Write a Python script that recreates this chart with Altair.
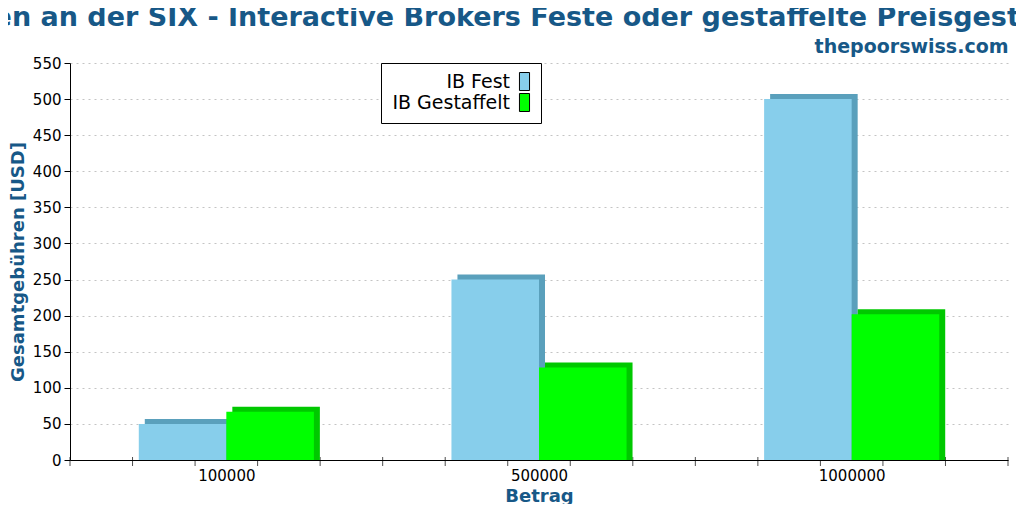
import json
import altair as alt
import pandas as pd

# ---- data ----
categories = ["100000", "500000", "1000000"]
series = ["IB Fest", "IB Gestaffelt"]
ib_fest = [50, 250, 500]
ib_gestaffelt = [67, 128, 202]
y_ticks = list(range(0, 551, 50))
x_tick_slots = list(range(0, 16))

front_colors = ["#87ceeb", "#00ff00"]
side_colors = ["#5aa0bc", "#00c800"]
BLUE = "#175887"
FONT = "DejaVu Sans"

rows = []
for gi, cat in enumerate(categories):
    for si, (name, vals) in enumerate(zip(series, [ib_fest, ib_gestaffelt])):
        rows.append({"Betrag": cat, "gi": gi, "si": si, "Serie": name, "Gebuehr": vals[gi]})
df = pd.DataFrame(rows)
ticks_df = pd.DataFrame({"slot": x_tick_slots, "Gebuehr": [0] * len(x_tick_slots)})

xscale = alt.Scale(domain=[0, 15], nice=False, zero=False)
yscale = alt.Scale(domain=[0, 550], nice=False)

label_expr = json.dumps(categories) + "[floor(datum.value / 5)]"

y_axis = alt.Axis(values=y_ticks, title="Gesamtgebühren [USD]", titleFont=FONT,
                  titleFontSize=18, titleFontWeight="bold", titleColor=BLUE,
                  titlePadding=5, labelFont=FONT, labelFontSize=15, labelColor="black",
                  tickColor="black", tickSize=6, labelPadding=3, domainColor="black",
                  grid=True, gridColor="#c4c4c4", gridDash=[2, 4])


def yenc():
    return alt.Y("Gebuehr:Q", scale=yscale, stack=None, axis=y_axis)


# tick marks crossing the x axis (drawn under the bars)
ticks = alt.Chart(ticks_df).mark_tick(
    orient="vertical", size=9, thickness=1, color="black", yOffset=1.5
).encode(
    x=alt.X("slot:Q", scale=xscale,
            axis=alt.Axis(orient="top", title="thepoorswiss.com", labels=False, ticks=False,
                          domain=False, grid=False, titleAnchor="end", titleFont=FONT,
                          titleFontSize=19, titleFontWeight="bold", titleColor=BLUE,
                          titlePadding=11, titleBaseline="alphabetic")),
    y=yenc(),
)

base = alt.Chart(df).transform_calculate(
    x0="datum.gi * 5 + 1.1 + datum.si * 1.4",
    x1="datum.gi * 5 + 2.5 + datum.si * 1.4",
)

back = base.mark_bar(xOffset=6, x2Offset=6, yOffset=-5, y2Offset=0).encode(
    x=alt.X("x0:Q", scale=xscale, axis=None),
    x2="x1:Q",
    y=yenc(),
    y2=alt.datum(0),
    color=alt.Color("Serie:N", scale=alt.Scale(domain=series, range=side_colors), legend=None),
)

front = base.mark_bar().encode(
    x=alt.X("x0:Q", scale=xscale,
            axis=alt.Axis(orient="bottom", values=[2.5, 7.5, 12.5], labelExpr=label_expr,
                          ticks=False, grid=False, domainColor="black", labelFont=FONT,
                          labelFontSize=15, labelColor="black", labelPadding=8,
                          title="Betrag", titleFont=FONT, titleFontSize=18,
                          titleFontWeight="bold", titleColor=BLUE, titlePadding=4)),
    x2="x1:Q",
    y=yenc(),
    y2=alt.datum(0),
    color=alt.Color("Serie:N", scale=alt.Scale(domain=series, range=front_colors),
                    legend=alt.Legend(title=None, orient="none", legendX=311, legendY=0,
                                      labelAlign="right", labelOffset={"expr": "-24"},
                                      symbolOffset=125,
                                      symbolType="M-0.56,-1L0.56,-1L0.56,1L-0.56,1Z",
                                      symbolSize=324, symbolStrokeColor="black",
                                      symbolStrokeWidth=1, labelFont=FONT, labelFontSize=19,
                                      labelColor="black", fillColor="white",
                                      strokeColor="black", padding=9,
                                      rowPadding={"expr": "-5.5"}, labelLimit=300)),
)

chart = alt.layer(ticks, back, front).resolve_axis(x="independent").resolve_scale(
    color="independent"
).properties(
    width=938,
    height=397,
    autosize=alt.AutoSizeParams(type="none"),
    padding={"left": 62, "top": 55, "right": 8, "bottom": 44},
    title=alt.TitleParams(
        text="Gebühren an der SIX - Interactive Brokers Feste oder gestaffelte Preisgestaltung",
        anchor="middle", dx=-39, dy=26, font=FONT, fontSize=27, fontWeight="bold", color=BLUE,
        offset=10, baseline="alphabetic"),
).configure_view(stroke=None)

chart.save("out.html", embed_options={"renderer": "svg", "actions": False})
